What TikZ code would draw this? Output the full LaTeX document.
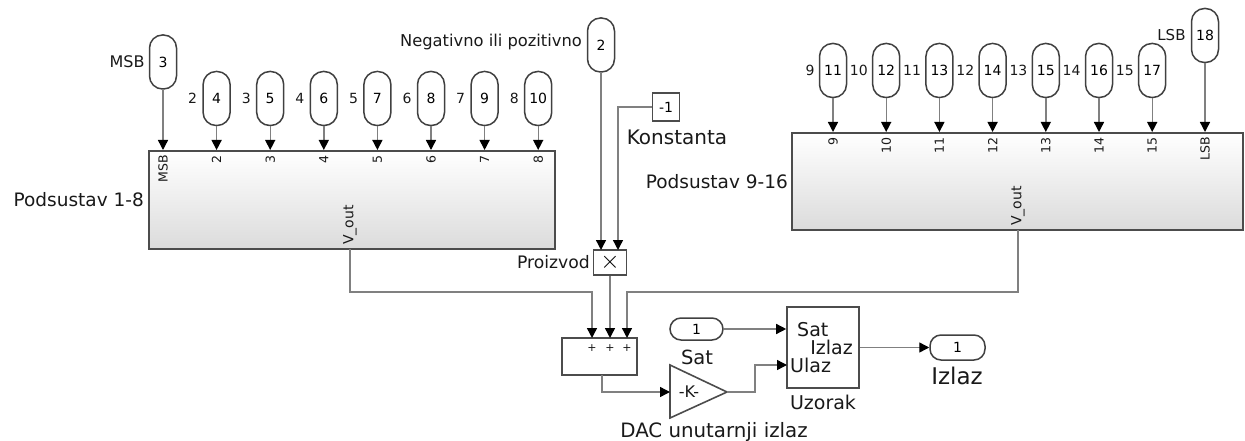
\documentclass[tikz,border=0pt]{standalone}
\usepackage{fontspec}
\setmainfont{DejaVu Sans}
\usetikzlibrary{arrows.meta,calc}
\begin{document}
\begin{tikzpicture}[x=1pt,y=-1pt,
  wire/.style={draw=black!50, line width=1.4pt},
  conn/.style={wire, -{Triangle[width=10pt,length=10pt,color=black]}},
  inport/.style={draw=black!75, line width=1.5pt, rounded corners=13pt, minimum width=27pt, minimum height=54pt, inner sep=0pt, font=\fontsize{14}{16}\selectfont},
  hport/.style={draw=black!75, line width=1.5pt, rounded corners=11pt, minimum width=54pt, minimum height=23pt, inner sep=0pt, font=\fontsize{14}{16}\selectfont},
  sub/.style={draw=black!70, line width=2pt, top color=white, bottom color=black!14, inner sep=0pt},
  blk/.style={draw=black!70, line width=1.6pt, fill=white, inner sep=0pt},
  lbl/.style={inner sep=0pt, text=black!90},
  plbl/.style={lbl, rotate=90, anchor=east, font=\fontsize{12.5}{14}\selectfont},
  side/.style={lbl, anchor=east, font=\fontsize{14}{16}\selectfont},
]
\useasboundingbox (0,0) rectangle (1245,441);

% subsystems
\node[sub, minimum width=406pt, minimum height=98pt] (b1) at (352,200) {};
\node[sub, minimum width=451pt, minimum height=97pt] (b2) at (1017.5,181.5) {};
\node[lbl, anchor=east, font=\fontsize{18.5}{20}\selectfont] (b1l) at (144,200) {Podsustav 1-8};
\node[lbl, anchor=east, font=\fontsize{18.5}{20}\selectfont] (b2l) at (788,182) {Podsustav 9-16};

% block 1 inputs
\node[inport] (a0) at (163,62) {3};
\node[side, font=\fontsize{16}{18}\selectfont] (as0) at ($(a0.west)+(-4,0)$) {MSB};
\draw[conn] (a0) -- (a0 |- b1.north);
\node[plbl] (ap0) at ($(a0 |- b1.north)+(0,5)$) {MSB};
\foreach \i/\n/\s in {1/4/2,2/5/3,3/6/4,4/7/5,5/8/6,6/9/7,7/10/8} {
  \pgfmathsetmacro\xx{163+53.6*\i}
  \node[inport] (a\i) at (\xx,98.5) {\n};
  \node[side] (as\i) at ($(a\i.west)+(-5,0)$) {\s};
  \draw[conn] (a\i) -- (a\i |- b1.north);
  \node[plbl] (ap\i) at ($(a\i |- b1.north)+(0,5)$) {\s};
}

% block 2 inputs
\foreach \j/\n/\s in {0/11/9,1/12/10,2/13/11,3/14/12,4/15/13,5/16/14,6/17/15} {
  \pgfmathsetmacro\xx{833+53.2*\j}
  \node[inport] (c\j) at (\xx,70.5) {\n};
  \node[side] (cs\j) at ($(c\j.west)+(-4,0)$) {\s};
  \draw[conn] (c\j) -- (c\j |- b2.north);
  \node[plbl] (cp\j) at ($(c\j |- b2.north)+(0,5)$) {\s};
}
\node[inport] (c7) at (1205,35.5) {18};
\node[side, font=\fontsize{15}{17}\selectfont] (cs7) at ($(c7.west)+(-5,0)$) {LSB};
\draw[conn] (c7) -- (c7 |- b2.north);
\node[plbl] (cp7) at ($(c7 |- b2.north)+(0,5)$) {LSB};

% V_out labels
\coordinate (b1out) at (350,249);
\coordinate (b2out) at (1018,230);
\node[plbl, anchor=west, font=\fontsize{14}{16}\selectfont] (v1) at ($(b1out)+(0,-4)$) {V\_out};
\node[plbl, anchor=west, font=\fontsize{14}{16}\selectfont] (v2) at ($(b2out)+(0,-4)$) {V\_out};

% sign input, constant, product
\node[inport] (neg) at (601,45) {2};
\node[lbl, anchor=east, font=\fontsize{16.3}{18}\selectfont] (negl) at (582,42) {Negativno ili pozitivno};
\node[blk, minimum width=27pt, minimum height=28pt, font=\fontsize{14}{16}\selectfont] (const) at (666,107) {-1};
\node[lbl, font=\fontsize{20}{22}\selectfont] (constl) at (677,137) {Konstanta};
\node[blk, minimum width=33pt, minimum height=25pt, font=\fontsize{24}{26}\selectfont] (prod) at (610,262.5) {$\times$};
\node[lbl, anchor=east, font=\fontsize{17.2}{19}\selectfont] (prodl) at (590,262) {Proizvod};
\coordinate (pin1) at (601,250);
\coordinate (pin2) at (618,250);
\draw[conn] (neg) -- (pin1);
\draw[conn] (const.west) -| (pin2);

% sum
\node[blk, minimum width=75pt, minimum height=37pt] (sum) at (599.5,356.5) {};
\coordinate (sin1) at (592,338);
\coordinate (sin2) at (610,338);
\coordinate (sin3) at (627,338);
\foreach \k in {1,2,3} \node[lbl, font=\fontsize{11}{12}\selectfont] (plus\k) at ($(sin\k)+(0,10)$) {+};
\draw[conn] (b1out) -- ++(0,43) -| (sin1);
\draw[conn] (b2out) -- ++(0,62) -| (sin3);
\draw[conn] (prod.south) -- (sin2);

% gain
\coordinate (gin) at (670,392);
\coordinate (gout) at (727,392);
\draw[blk] (670,365) -- (gout) -- (670,418) -- cycle;
\node[lbl, font=\fontsize{16}{18}\selectfont] (gain) at (689,392) {-K-};
\node[lbl, font=\fontsize{19.8}{22}\selectfont] (gainl) at (714,432) {DAC unutarnji izlaz};
\coordinate (sout) at (602,375);
\draw[conn] (sout) |- (gin);

% clock input
\node[hport, minimum width=53pt, minimum height=22pt] (sat) at (696.5,329) {1};
\node[lbl, font=\fontsize{19.5}{21}\selectfont] (satl) at (697,357) {Sat};

% sample block
\node[blk, minimum width=72pt, minimum height=81pt] (uz) at (823,347.5) {};
\node[lbl, anchor=west, font=\fontsize{19}{21}\selectfont] (uzs) at (797,330) {Sat};
\node[lbl, anchor=east, font=\fontsize{19}{21}\selectfont] (uzi) at (853,347) {Izlaz};
\node[lbl, anchor=west, font=\fontsize{19}{21}\selectfont] (uzu) at (790,365) {Ulaz};
\node[lbl, font=\fontsize{19}{21}\selectfont] (uzl) at (823,402) {Uzorak};
\coordinate (uin2) at (787,365);
\draw[conn] (sat.east) -- (sat.east -| uz.west);
\draw[conn] (gout) -- ++(28,0) |- (uin2);

% output
\node[hport, minimum width=55pt, minimum height=25pt] (out) at (957.5,347.5) {1};
\node[lbl, font=\fontsize{23}{25}\selectfont] (outl) at (957,376) {Izlaz};
\draw[conn] (uz.east) -- (out.west);
\end{tikzpicture}
\end{document}
